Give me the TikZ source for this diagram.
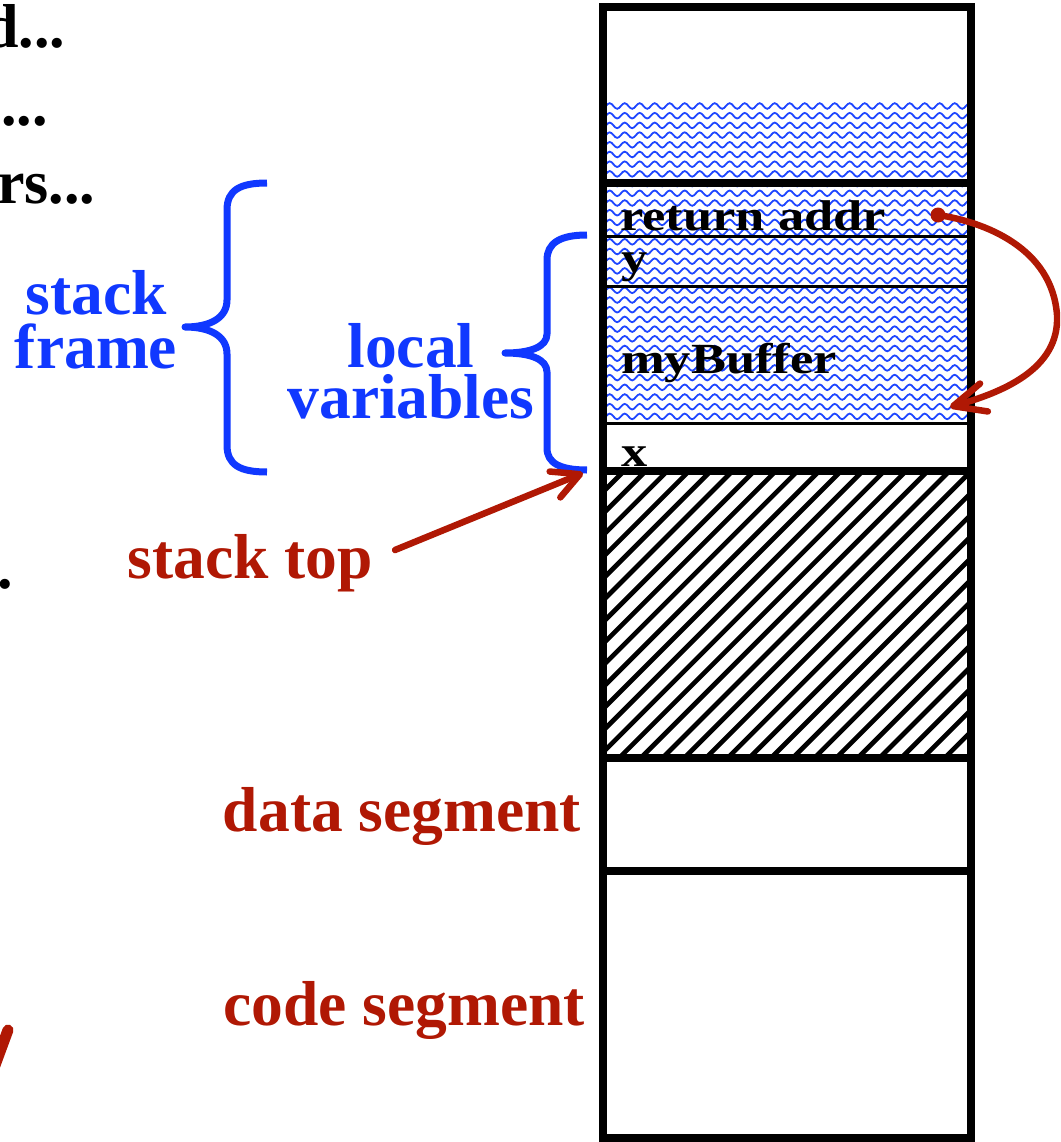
\documentclass[tikz,border=0pt]{standalone}
\usepackage{fontspec}
\setmainfont{Liberation Serif}
\usetikzlibrary{decorations.pathmorphing, arrows.meta}

\definecolor{slideblue}{RGB}{16,56,255}
\definecolor{slidered}{RGB}{176,24,4}
\definecolor{wavecol}{RGB}{30,70,255}

\tikzset{
  fragtext/.style={font=\fontsize{62}{54}\selectfont\bfseries, inner sep=0pt},
  bigtext/.style={font=\fontsize{63.5}{54}\selectfont\bfseries, inner sep=0pt},
  celltext/.style={font=\fontsize{43}{43}\selectfont\bfseries, inner sep=0pt,
                   xscale=1.22, anchor=base west},
  wavy/.style={draw=wavecol, line width=1.8pt, decorate,
               decoration={snake, segment length=15pt, amplitude=2.8pt}},
  hatchline/.style={draw=black, line width=4.7pt},
  thickrule/.style={draw=black, line width=8pt},
  thinrule/.style={draw=black, line width=3pt},
  bracepath/.style={draw=slideblue, line width=7pt, line join=round},
  redline/.style={draw=slidered, line width=6.5pt, line cap=round},
}

\begin{document}
\begin{tikzpicture}[x=1pt, y=-1pt]
\useasboundingbox (0,0) rectangle (1060,1142);
\clip (0,0) rectangle (1060,1142);

% ---- wavy fill of the occupied stack cells
\begin{scope}
  \clip (607,103) rectangle (967,423);
  \foreach \k in {0,...,33}
    \draw[wavy] (590,{106+9.7*\k}) -- (1000,{106+9.7*\k});
\end{scope}

% ---- hatched free region between stack and heap
\begin{scope}
  \clip (607,471) rectangle (967,758);
  \foreach \k in {-2,...,32}
    \draw[hatchline] ({1095+21.7*\k-780},780) -- ({1095+21.7*\k-450},450);
\end{scope}

% ---- memory column
\draw[thinrule] (603,236) -- (971,236);
\draw[thinrule] (603,286) -- (971,286);
\draw[thinrule] (603,423) -- (971,423);
\draw[thickrule] (603,183) -- (971,183);
\draw[thickrule] (603,471) -- (971,471);
\draw[thickrule] (603,758) -- (971,758);
\draw[thickrule] (603,871) -- (971,871);
\draw[thickrule] (603,7) rectangle (971,1138);

% ---- cell labels
\node[celltext] (retaddr) at (620,230) {return addr};
\node[celltext] (yvar)    at (621,272) {y};
\node[celltext] (buffer)  at (621,373) {myBuffer};
\node[celltext] (xvar)    at (621,466) {x};

% ---- fragments of text at the left margin
\node[fragtext, anchor=base east] (frag1) at (65.5,48)  {d...};
\node[fragtext, anchor=base west] (frag2) at (1,126)    {...};
\node[fragtext, anchor=base east] (frag3) at (95.6,203) {rs...};
\node[fragtext, anchor=base west] (frag4) at (-2.5,588) {.};
\draw[draw=slidered, line width=11pt, line cap=round] (8,1030) -- (-6,1068);

% ---- braces
\draw[bracepath] (267,183) .. controls (240,183) and (227,190) .. (227,210)
  -- (227,300) .. controls (227,318) and (210,327) .. (185,327)
  .. controls (210,327) and (227,336) .. (227,354)
  -- (227,445) .. controls (227,465) and (240,472) .. (267,472);
\draw[bracepath] (587,235) .. controls (560,235) and (547,243) .. (547,260)
  -- (547,334) .. controls (547,347) and (530,353) .. (505,353)
  .. controls (530,353) and (547,359) .. (547,372)
  -- (547,448) .. controls (547,463) and (560,470) .. (587,470);

% base anchor of a two-line node sits on its last line
\node[bigtext, text=slideblue, align=center, anchor=base] (frame) at (96,368)
  {stack\\frame};
\node[bigtext, text=slideblue, align=center, anchor=base,
      font=\fontsize{63.5}{51}\selectfont\bfseries] (locals) at (411,418)
  {local\\variables};

% ---- segment labels
\node[bigtext, text=slidered, anchor=base] (stacktop) at (250,578) {stack top};
\node[bigtext, text=slidered, anchor=base] (dataseg)  at (402,831) {data segment};
\node[bigtext, text=slidered, anchor=base] (codeseg)  at (404,1025) {code segment};

% ---- arrows
\coordinate (stfrom) at (395,550);
\coordinate (sttip)  at (583,473);
\draw[redline, -{Straight Barb[round, length=27pt, width=28pt]}] (stfrom) -- (sttip);

\coordinate (ra)  at (938,215);
\coordinate (buf) at (950,407);
\fill[slidered] (ra) circle (7.5);
\draw[redline, -{Straight Barb[round, length=32pt, width=29pt]}] (ra)
  .. controls (985,222) and (1052,248) .. (1057,315)
  .. controls (1060,370) and (1000,393) .. (buf);
\end{tikzpicture}
\end{document}
